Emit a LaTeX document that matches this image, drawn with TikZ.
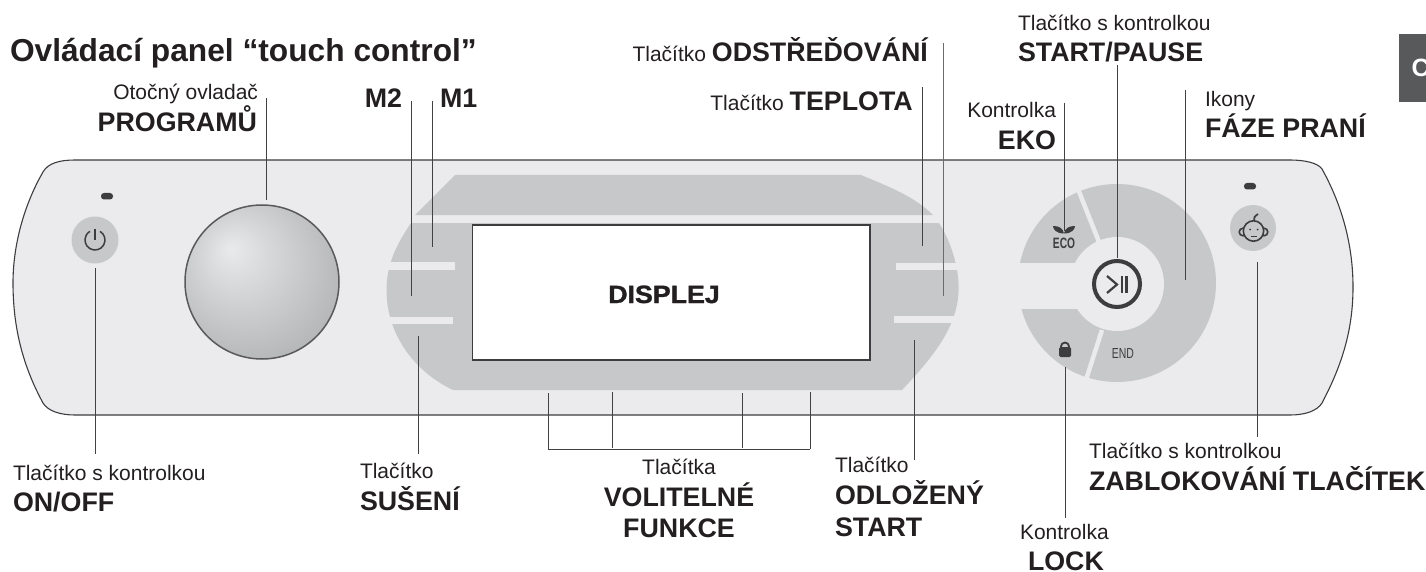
\documentclass[tikz,border=0pt]{standalone}
\usepackage{fontspec}
\usepackage{graphicx}
\setmainfont{Liberation Sans}
\newfontfamily\heavyfont[FakeBold=1.2]{Liberation Sans Bold}
\definecolor{panelc}{HTML}{EBEBED}
\definecolor{grayc}{HTML}{C7C8CA}
\definecolor{inkc}{HTML}{231F20}
\definecolor{darkc}{HTML}{3D3D3F}
\definecolor{tabc}{HTML}{58595B}
\definecolor{kna}{HTML}{E9EAEB}
\definecolor{knb}{HTML}{D6D7D9}
\definecolor{knc}{HTML}{BFC0C2}
\definecolor{knd}{HTML}{A8A9AB}
\pgfdeclareradialshading{knobshade}{\pgfpoint{-10.4bp}{11bp}}{%
  color(0bp)=(kna); color(11bp)=(knb); color(25bp)=(knc); color(39bp)=(knd); color(50bp)=(knd)}
\tikzset{
  x=1pt,y=-1pt,
  reg/.style={inner sep=0pt,outer sep=0pt,text=inkc,font=\fontsize{21}{25}\selectfont},
  bld/.style={inner sep=0pt,outer sep=0pt,text=inkc,font=\fontsize{26.8}{30}\selectfont\bfseries},
  lead/.style={draw=inkc!85!white,line width=1pt},
  softlead/.style={draw=black!58,line width=1.3pt},
  slit/.style={fill=panelc,draw=none},
  icon/.style={draw=darkc,line width=1.5pt},
  led/.style={fill=darkc,draw=none,rounded corners=3pt},
}
\begin{document}
\begin{tikzpicture}
\useasboundingbox (0,0) rectangle (1426,572);
% panel
\path[fill=panelc,draw=darkc,line width=1.1pt] (75,160) -- (1290,160)
  .. controls (1305,160) and (1318,163) .. (1322,169)
  .. controls (1342,205) and (1353,245) .. (1353,287)
  .. controls (1353,330) and (1342,365) .. (1322,403)
  .. controls (1317,411) and (1305,415) .. (1290,415)
  -- (75,415)
  .. controls (60,415) and (48,411) .. (43,403)
  .. controls (24,368) and (13,330) .. (13,283)
  .. controls (13,245) and (24,205) .. (43,172)
  .. controls (48,163) and (60,160) .. (75,160) -- cycle;
% grey display surround
\path[fill=grayc] (415,215) -- (455,175) -- (861,175)
  .. controls (890,187) and (915,197) .. (933,215) -- cycle;
\path[fill=grayc] (411,223)
  .. controls (396,245) and (386.5,265) .. (386.5,290)
  .. controls (386.5,335) and (415,372) .. (453,390)
  -- (902,390)
  .. controls (935,355) and (958.6,325) .. (958.6,288)
  .. controls (958.6,265) and (950,240) .. (939,223) -- cycle;
\path[slit] (385,262) rectangle (455,270);
\path[slit] (385,317) rectangle (453,324);
\path[slit] (895.5,263) rectangle (960,270);
\path[slit] (894,316) rectangle (960,323);
% display
\node[draw=darkc,fill=white,line width=1.3pt,minimum width=397.5pt,minimum height=135pt,inner sep=0pt] (disp) at (671.2,292.5) {};
\node[inner sep=0pt,text=inkc,anchor=base,font=\fontsize{25}{30}\selectfont\heavyfont] (disptext) at (664,303) {\scalebox{1.07}[1]{DISPLEJ}};
% knob
\path[shading=knobshade,draw=black!65,line width=1.5pt] (262,282) circle (77);
% power
\path[fill=grayc] (95,240) circle (23.5);
\draw[icon] (95,240) ++(-60:10) arc (-60:240:10);
\draw[icon] (95,229) -- (95,240);
\path[led] (101,193) rectangle (113,199.5);
% child lock button
\path[led] (1244,183) rectangle (1256,189.5);
\path[fill=grayc] (1253,228) circle (23);
\path[fill=grayc,draw=darkc,line width=1.6pt] (1243,232) circle (3.8);
\path[fill=grayc,draw=darkc,line width=1.6pt] (1264,232) circle (3.8);
\path[fill=grayc,draw=darkc,line width=1.6pt] (1253.5,231) circle (10.2);
\draw[darkc,line width=1.7pt] (1254,221) .. controls (1253,218) and (1255,216) .. (1258,214);
\path[fill=darkc] (1250,229.5) circle (1);
\path[fill=darkc] (1257.5,229.5) circle (1);
\draw[darkc,line width=1pt] (1251,236.5) -- (1256.5,236.5);
% ring
\path[fill=grayc] (1117,283) circle (99);
\path[slit] (1010,263) rectangle (1117,309);
\path[fill=panelc] (1117,284) circle (47);
\draw[panelc,line width=4.5pt] (1076,184) -- (1099,242);
\draw[panelc,line width=4.5pt] (1084,386) -- (1102,330);
% play/pause
\draw[darkc,line width=4pt] (1117,284) circle (23);
\draw[darkc,line width=2.2pt] (1107,276) -- (1117,284.5) -- (1107,293);
\draw[darkc,line width=2.2pt] (1122,276) -- (1122,293);
\draw[darkc,line width=2.2pt] (1126.5,276) -- (1126.5,293);
% eco
\path[fill=darkc] (1064,233.5) .. controls (1056,233.5) and (1053,229) .. (1053,226) .. controls (1059,226) and (1063,228) .. (1064,233.5) -- cycle;
\path[fill=darkc] (1064,233.5) .. controls (1072,233.5) and (1075,229) .. (1075,226) .. controls (1069,226) and (1065,228) .. (1064,233.5) -- cycle;
\node[inner sep=0pt,anchor=base,text=darkc,font=\fontsize{15}{18}\selectfont\bfseries] (ecot) at (1064,248.5) {\scalebox{0.68}[1]{ECO}};
\node[inner sep=0pt,anchor=base,text=darkc,font=\fontsize{14.5}{18}\selectfont] (endt) at (1123,358) {\scalebox{0.72}[1]{END}};
% lock
\draw[darkc,line width=1.8pt] (1061,349) -- (1061,346.5) arc (180:360:4) -- (1069,349);
\path[fill=darkc,rounded corners=1.5pt] (1059,347) rectangle (1071,357);
% tab
\begin{scope}
\clip (1399,34) rectangle (1426,102);
\path[fill=tabc] (1399,34) rectangle (1426,102);
\node[anchor=base west,inner sep=0pt,text=white,font=\fontsize{25}{30}\selectfont\bfseries] (tabtext) at (1411.5,77) {C};
\end{scope}
% labels
\node[reg,bld,anchor=base west,font=\fontsize{31.7}{36}\selectfont\bfseries] (title) at (10,62) {Ovládací panel “touch control”};
\node[reg,anchor=base east] (l1) at (258,100) {Otočný ovladač};
\node[bld,anchor=base east] (l2) at (257,132) {PROGRAMŮ};
\node[bld,anchor=base east] (m2) at (402,108) {M2};
\node[bld,anchor=base west] (m1) at (440,108) {M1};
\node[anchor=base east,inner sep=0pt,text=inkc] (l3) at (928,62) {{\fontsize{21}{25}\selectfont Tlačítko }{\fontsize{26.8}{30}\selectfont\bfseries ODSTŘEĎOVÁNÍ}};
\node[anchor=base east,inner sep=0pt,text=inkc] (l4) at (913,111) {{\fontsize{21}{25}\selectfont Tlačítko }{\fontsize{26.8}{30}\selectfont\bfseries TEPLOTA}};
\node[reg,anchor=base west] (l5) at (1018,31) {Tlačítko s kontrolkou};
\node[bld,anchor=base west] (l6) at (1018,62) {START/PAUSE};
\node[reg,anchor=base west] (l7) at (1205,107) {Ikony};
\node[bld,anchor=base west] (l8) at (1205,138) {FÁZE PRANÍ};
\node[reg,anchor=base east] (l9) at (1056,118) {Kontrolka};
\node[bld,anchor=base east] (l10) at (1056,150) {EKO};
\node[reg,anchor=base west] (l11) at (13,480) {Tlačítko s kontrolkou};
\node[bld,anchor=base west] (l12) at (13,511) {ON/OFF};
\node[reg,anchor=base west] (l13) at (360,478) {Tlačítko};
\node[bld,anchor=base west] (l14) at (360,510) {SUŠENÍ};
\node[reg,anchor=base] (l15) at (679,474) {Tlačítka};
\node[bld,anchor=base] (l16) at (679,506) {VOLITELNÉ};
\node[bld,anchor=base] (l17) at (679,537) {FUNKCE};
\node[reg,anchor=base west] (l18) at (835,472) {Tlačítko};
\node[bld,anchor=base west] (l19) at (835,504) {ODLOŽENÝ};
\node[bld,anchor=base west] (l20) at (835,536) {START};
\node[reg,anchor=base west] (l21) at (1020,539) {Kontrolka};
\node[bld,anchor=base west] (l22) at (1028,570) {LOCK};
\node[reg,anchor=base west] (l23) at (1089,458) {Tlačítko s kontrolkou};
\node[bld,anchor=base west] (l24) at (1089,490) {ZABLOKOVÁNÍ TLAČÍTEK};
% connector end points
\coordinate (a1) at (266,98);   \coordinate (a2) at (266,200);
\coordinate (b1) at (411,101);  \coordinate (b2) at (411,296);
\coordinate (c1) at (432,101);  \coordinate (c2) at (432,247);
\coordinate (d1) at (943.7,43); \coordinate (d2) at (943.7,296);
\coordinate (e1) at (922,87);   \coordinate (e2) at (922,246);
\coordinate (f1) at (1117,65);  \coordinate (f2) at (1117,258);
\coordinate (g1) at (1185,90);  \coordinate (g2) at (1185,280);
\coordinate (h1) at (1064.5,103); \coordinate (h2) at (1064.5,231);
\coordinate (i1) at (95,268);   \coordinate (i2) at (95,454);
\coordinate (j1) at (418,336);  \coordinate (j2) at (418,454);
\coordinate (k1) at (914,340);  \coordinate (k2) at (914,460);
\coordinate (n1) at (1065,367); \coordinate (n2) at (1065,518);
\coordinate (o1) at (1257,262); \coordinate (o2) at (1257,437);
\coordinate (p1) at (548,393);  \coordinate (p2) at (548,449);
\coordinate (q1) at (612,392);  \coordinate (q2) at (612,448);
\coordinate (r1) at (742,393);  \coordinate (r2) at (742,448);
\coordinate (s1) at (810,392);  \coordinate (s2) at (810,449);
\draw[lead] (a1) -- (a2);
\draw[lead] (b1) -- (b2);
\draw[lead] (c1) -- (c2);
\draw[softlead] (d1) -- (d2);
\draw[lead] (e1) -- (e2);
\draw[lead] (f1) -- (f2);
\draw[lead] (g1) -- (g2);
\draw[lead] (h1) -- (h2);
\draw[lead] (i1) -- (i2);
\draw[lead] (j1) -- (j2);
\draw[lead] (k1) -- (k2);
\draw[lead] (n1) -- (n2);
\draw[lead] (o1) -- (o2);
\draw[lead] (p1) -- (p2);
\draw[lead] (q1) -- (q2);
\draw[lead] (r1) -- (r2);
\draw[lead] (s1) -- (s2);
\draw[lead] (p2) -- (s2);
\end{tikzpicture}
\end{document}
